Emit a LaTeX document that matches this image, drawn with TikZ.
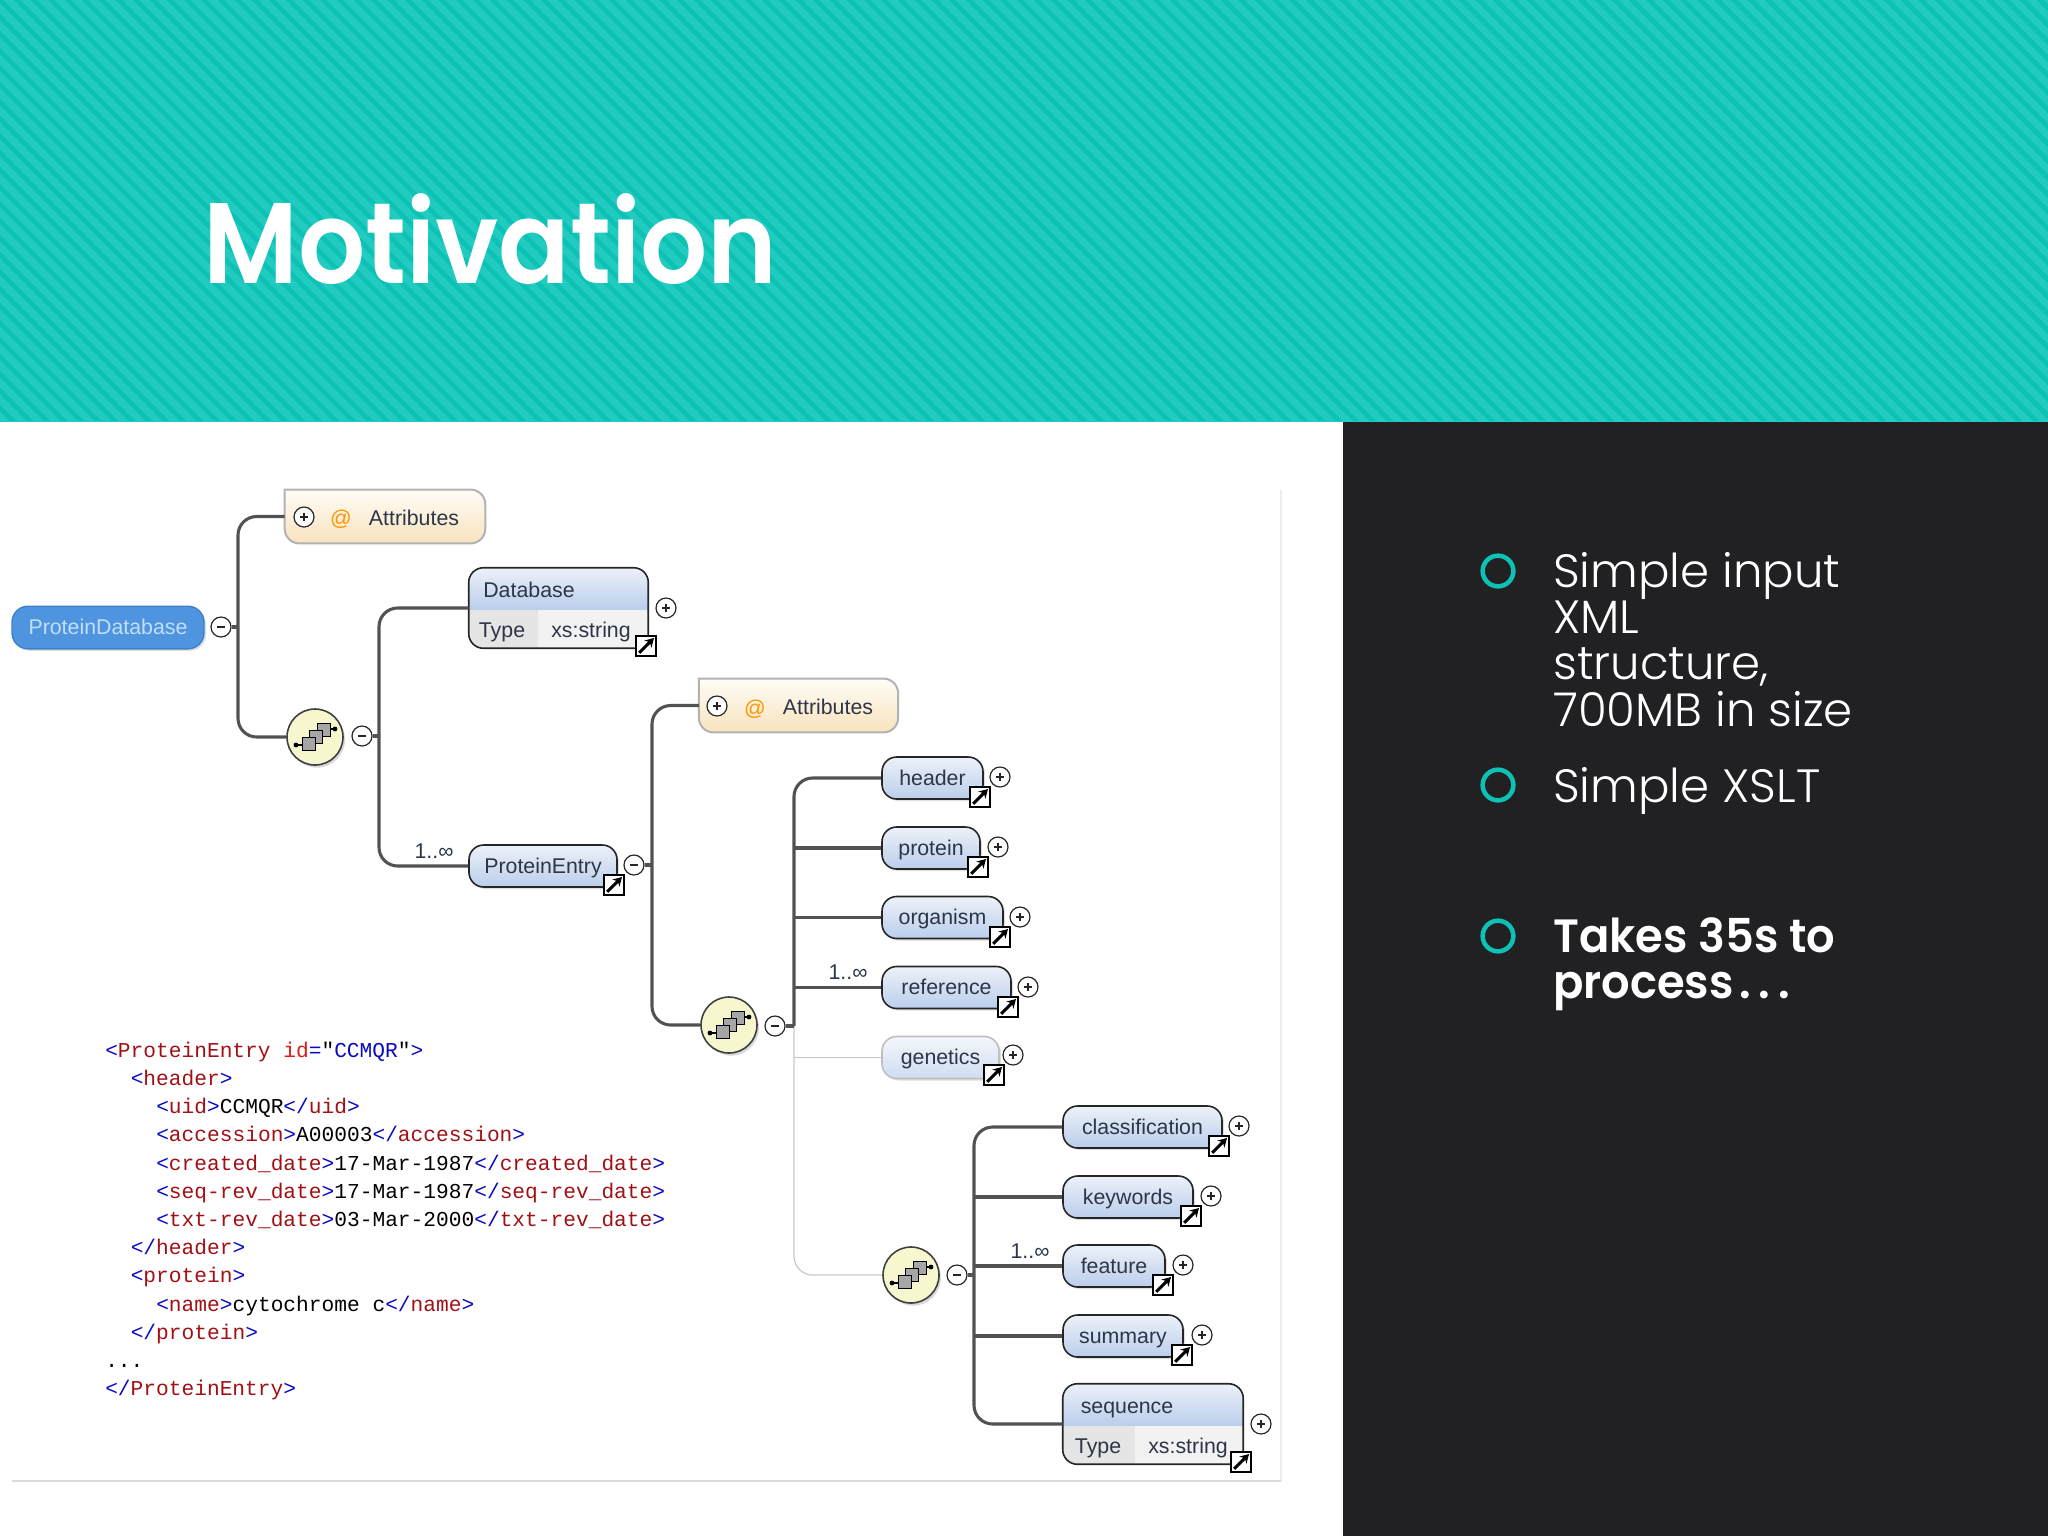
\documentclass[tikz,border=0pt]{standalone}
\usepackage{fontspec}
\usetikzlibrary{calc,shadows,arrows.meta}
\newfontfamily\xsdfont{Liberation Sans}
\newfontfamily\xmlfont{Liberation Mono}
\newfontfamily\bodyfont{Poppins Light}
\newfontfamily\headfont{Poppins SemiBold}[FakeStretch=0.96]
\newfontfamily\titlefont{Poppins SemiBold}[FakeStretch=0.92]
\definecolor{tealA}{HTML}{21CBBF}
\definecolor{tealB}{HTML}{0DC2B4}
\definecolor{panelbg}{HTML}{212023}
\definecolor{xmlblue}{HTML}{0A0AC0}
\definecolor{xmlred}{HTML}{A01015}
\definecolor{xmlattr}{HTML}{E01818}
\definecolor{boxtop}{HTML}{EDF1F8}
\definecolor{boxbot}{HTML}{BACEEC}
\definecolor{boxink}{HTML}{2C3648}
\definecolor{rootfill}{HTML}{4F94DE}
\definecolor{rootedge}{HTML}{3F7FC8}
\definecolor{rootink}{HTML}{C2DFF9}
\definecolor{attrtop}{HTML}{FFFDF6}
\definecolor{attrbot}{HTML}{F8E3BE}
\definecolor{bubfill}{HTML}{F6F6CF}
\newcommand{\xo}[1]{\textcolor{xmlblue}{<}\textcolor{xmlred}{#1}\textcolor{xmlblue}{>}}
\newcommand{\xc}[1]{\textcolor{xmlblue}{</}\textcolor{xmlred}{#1}\textcolor{xmlblue}{>}}
\tikzset{
  treeline/.style={draw=black!68,line width=2.3pt,rounded corners=14pt},
  branchline/.style={draw=black!68,line width=2.3pt},
  lightline/.style={draw=black!22,line width=0.9pt,rounded corners=14pt},
  elembox/.style={draw=black!85,line width=1.2pt,rounded corners=11pt,inner sep=0pt,
    top color=boxtop,bottom color=boxbot,minimum height=31.5pt,minimum width=#1*0.75pt,
    text=boxink,text height=13.6pt,text depth=2.4pt,font=\xsdfont\fontsize{16}{18}\selectfont,
    drop shadow={shadow xshift=1.5pt,shadow yshift=-1.5pt,opacity=.25}},
  optbox/.style={elembox=#1,draw=black!25,top color=boxtop!60!white,bottom color=boxbot!70!white},
  typedbox/.style={inner sep=0pt,minimum width=#1*0.75pt,minimum height=60pt},
  boxtext/.style={text=boxink,text height=13.6pt,text depth=2.4pt,font=\xsdfont\fontsize{16}{18}\selectfont,inner sep=0pt},
  attrbox/.style={inner sep=0pt,minimum width=150pt,minimum height=40pt},
  attrshape/.style={draw=black!30,line width=1.5pt,top color=attrtop,bottom color=attrbot},
  attrsign/.style={boxtext,text=orange!85!yellow},
  plusbtn/.style={circle,draw=black!85,fill=white,line width=0.9pt,minimum size=15pt,inner sep=0pt,
    path picture={
      \draw[line width=0.9pt] ($(path picture bounding box.west)!.3!(path picture bounding box.east)$) -- ($(path picture bounding box.west)!.7!(path picture bounding box.east)$);
      \draw[line width=0.9pt] ($(path picture bounding box.north)!.3!(path picture bounding box.south)$) -- ($(path picture bounding box.north)!.7!(path picture bounding box.south)$);}},
  minusbtn/.style={circle,draw=black!85,fill=white,line width=0.9pt,minimum size=15pt,inner sep=0pt,
    path picture={
      \draw[line width=0.9pt] ($(path picture bounding box.west)!.3!(path picture bounding box.east)$) -- ($(path picture bounding box.west)!.7!(path picture bounding box.east)$);}},
  extlink/.style={rectangle,draw=black,fill=white,line width=1.2pt,minimum size=15pt,inner sep=0pt,
    path picture={
      \draw[line width=2.2pt,-{Stealth[length=6.5pt,width=7.5pt]}] ($(path picture bounding box.south west)!.16!(path picture bounding box.north east)$) -- ($(path picture bounding box.south west)!.9!(path picture bounding box.north east)$);}},
  seqbub/.style={circle,draw=black!75,fill=bubfill,line width=1.2pt,minimum size=42pt,inner sep=0pt,
    drop shadow={shadow xshift=1.5pt,shadow yshift=-2pt,opacity=.3}},
  seqcell/.style={draw=black,fill=black!35,line width=0.7pt},
  seqicon/.pic={
    \draw[line width=0.9pt] (-19,-8) -- (-13,-8) (13,8) -- (20,8);
    \fill (-19,-8) circle (1.8pt) (20,8) circle (1.8pt);
    \draw[seqcell] (2,14) rectangle (15,1);
    \draw[seqcell] (-6,7) rectangle (7,-6);
    \draw[seqcell] (-13,0) rectangle (0,-13);},
  xmlline/.style={anchor=base west,inner sep=0pt,font=\xmlfont\fontsize{15.9}{18}\selectfont},
  ringmark/.style={circle,draw=tealB,line width=3.4pt,minimum size=23pt,inner sep=0pt},
  bulletbody/.style={anchor=north west,inner sep=0pt,align=left,text=white,
    font=\bodyfont\fontsize{35}{34.7}\selectfont},
  bulletbold/.style={anchor=north west,inner sep=0pt,align=left,text=white,
    font=\headfont\fontsize{35}{34.7}\selectfont},
}
\begin{document}
\begin{tikzpicture}[x=0.75pt,y=0.75pt,yscale=-1,xscale=1]
\useasboundingbox (0,0) rectangle (2048,1536);

% Header band
\fill[tealA] (0,0) rectangle (2048,422);
\begin{scope}
\clip (0,0) rectangle (2048,420.5);
\foreach \i in {-430,-413,...,2048} {
  \draw[tealB,line width=3.7pt] (\i,-5) -- ++(432,432);
}
\end{scope}
\node[anchor=base west,inner sep=0pt,text=white,font=\titlefont\fontsize{86}{90}\selectfont] (title) at (203,283) {Motivation};

% Dark panel
\fill[panelbg] (1343,422) rectangle (2048,1536);

% Sheet edge
\draw[black!7,line width=1.5pt] (1281,490) -- (1281,1481);
\draw[black!14,line width=1.5pt] (12,1481) -- (1281,1481);

% Bullets
\node[ringmark] (ringA) at (1498,571) {};
\node[ringmark] (ringB) at (1498,785) {};
\node[ringmark] (ringC) at (1498,936) {};
\node[bulletbody] (bulletA) at (1553,552) {Simple input\\XML\\structure,\\700MB in size};
\node[bulletbody] (bulletB) at (1553,767) {Simple XSLT};
\node[bulletbold] (bulletC) at (1553,917) {Takes 35s to\\process\kern4pt.\kern6pt.\kern6pt.};

% Top level
\node[rectangle,draw=rootedge,fill=rootfill,line width=1pt,rounded corners=12pt,inner sep=0pt,minimum width=144pt,minimum height=32pt,text=rootink,text height=13.6pt,text depth=2.4pt,font=\xsdfont\fontsize{16}{18}\selectfont,drop shadow={shadow xshift=1.5pt,shadow yshift=-1.5pt,opacity=.25}] (root) at (108,627.5) {ProteinDatabase};
\node[minusbtn] (rootminus) at (221,627) {};
\coordinate (joinA) at (238,627);

\node[attrbox] (attrA) at (385,516.5) {};
\shade[attrshape] (attrA.north west) [rounded corners=11pt] -- (attrA.north east) -- (attrA.south east) -- (attrA.south west) [sharp corners] -- cycle;
\node[plusbtn] (attrAplus) at (304,517) {};
\node[attrsign] (attrAsign) at (341,518) {@};
\node[boxtext] (attrAtext) at (414,518) {Attributes};

\node[seqbub] (seqA) at (315,737) {};
\pic at (seqA) {seqicon};
\node[minusbtn] (seqAminus) at (362,736) {};
\coordinate (joinB) at (379,736);
\draw[treeline] (attrA.west) -| (joinA) |- (seqA.west);
\draw[branchline] (rootminus.east) -- (joinA);

% Database
\node[typedbox=179] (database) at (558.5,608) {};
\coordinate (dbsplit) at (469,609);
\coordinate (dbcell) at (538,648);
\begin{scope}
\clip[rounded corners=11pt] (database.north west) rectangle (database.south east);
\fill[black!5] (dbsplit) rectangle (database.south east);
\fill[black!10] (dbsplit) rectangle (dbcell);
\shade[top color=boxtop,bottom color=boxbot] (database.north east) rectangle (dbsplit);
\end{scope}
\draw[draw=black!85,line width=1.2pt,rounded corners=11pt] (database.north west) rectangle (database.south east);
\node[boxtext] (databasename) at (529,590) {Database};
\node[boxtext] (databasetype) at (502,630) {Type};
\node[boxtext] (databasevalue) at (591,630) {xs:string};
\node[plusbtn] (databaseplus) at (666,608) {};
\node[extlink] (databaseext) at (646,646) {};

% ProteinEntry
\node[elembox=148] (entry) at (543,866) {ProteinEntry};
\node[extlink] (entryext) at (614,885) {};
\node[minusbtn] (entryminus) at (634,865) {};
\coordinate (joinC) at (652,865);
\node[boxtext] (entrycount) at (434,851) {1..∞};
\draw[treeline] (database.west) -| (joinB) |- (entry.west);
\draw[branchline] (seqAminus.east) -- (joinB);

% Second level
\node[attrbox,minimum width=149pt] (attrB) at (798.5,705.5) {};
\shade[attrshape] (attrB.north west) [rounded corners=11pt] -- (attrB.north east) -- (attrB.south east) -- (attrB.south west) [sharp corners] -- cycle;
\node[plusbtn] (attrBplus) at (717,706) {};
\node[attrsign] (attrBsign) at (755,708) {@};
\node[boxtext] (attrBtext) at (828,707) {Attributes};

\node[seqbub] (seqB) at (729,1025) {};
\pic at (seqB) {seqicon};
\node[minusbtn] (seqBminus) at (775,1026) {};
\coordinate (joinD) at (794,1026);
\draw[treeline] (attrB.west) -| (joinC) |- (seqB.west);
\draw[branchline] (entryminus.east) -- (joinC);

\node[elembox=101] (header) at (932.5,778) {header};
\node[elembox=98] (protein) at (931,848) {protein};
\node[elembox=121] (organism) at (942.5,917.5) {organism};
\node[elembox=129] (reference) at (946.5,987.5) {reference};
\node[optbox=117] (genetics) at (940.5,1057.5) {genetics};
\node[plusbtn] (headerplus) at (1000,777) {};
\node[plusbtn] (proteinplus) at (998,847) {};
\node[plusbtn] (organismplus) at (1020,917) {};
\node[plusbtn] (referenceplus) at (1028,987) {};
\node[plusbtn] (geneticsplus) at (1013,1055) {};
\node[extlink] (headerext) at (980,797) {};
\node[extlink] (proteinext) at (978,867) {};
\node[extlink] (organismext) at (1000,937) {};
\node[extlink] (referenceext) at (1008,1007) {};
\node[extlink] (geneticsext) at (994,1075) {};
\node[boxtext] (referencecount) at (848,972) {1..∞};

% Third level
\node[seqbub] (seqC) at (911,1275) {};
\pic at (seqC) {seqicon};
\node[minusbtn] (seqCminus) at (957,1275) {};
\coordinate (joinE) at (974,1275);
\draw[lightline] (joinD) |- (seqC.west);
\draw[lightline,rounded corners=0pt] (genetics.west) -- (genetics.west -| joinD);
\draw[treeline] (header.west) -| (joinD);
\draw[branchline] (protein.west) -- (protein.west -| joinD);
\draw[branchline] (organism.west) -- (organism.west -| joinD);
\draw[branchline] (reference.west) -- (reference.west -| joinD);
\draw[branchline] (seqBminus.east) -- (joinD);

\node[elembox=159] (classification) at (1142.5,1127) {classification};
\node[elembox=130] (keywords) at (1128,1197) {keywords};
\node[elembox=102] (feature) at (1114,1266) {feature};
\node[elembox=120] (summary) at (1123,1336) {summary};
\node[typedbox=180] (sequence) at (1153,1424) {};
\coordinate (seqsplit) at (1063,1425);
\coordinate (seqcell) at (1135,1464);
\begin{scope}
\clip[rounded corners=11pt] (sequence.north west) rectangle (sequence.south east);
\fill[black!5] (seqsplit) rectangle (sequence.south east);
\fill[black!10] (seqsplit) rectangle (seqcell);
\shade[top color=boxtop,bottom color=boxbot] (sequence.north east) rectangle (seqsplit);
\end{scope}
\draw[draw=black!85,line width=1.2pt,rounded corners=11pt] (sequence.north west) rectangle (sequence.south east);
\node[boxtext] (sequencename) at (1127,1406) {sequence};
\node[boxtext] (sequencetype) at (1098,1446) {Type};
\node[boxtext] (sequencevalue) at (1188,1446) {xs:string};
\node[plusbtn] (classificationplus) at (1239,1126) {};
\node[plusbtn] (keywordsplus) at (1211,1196) {};
\node[plusbtn] (featureplus) at (1183,1265) {};
\node[plusbtn] (summaryplus) at (1202,1335) {};
\node[plusbtn] (sequenceplus) at (1261,1424) {};
\node[extlink] (classificationext) at (1219,1146) {};
\node[extlink] (keywordsext) at (1191,1216) {};
\node[extlink] (featureext) at (1163,1285) {};
\node[extlink] (summaryext) at (1182,1355) {};
\node[extlink] (sequenceext) at (1241,1462) {};
\node[boxtext] (featurecount) at (1030,1251) {1..∞};
\draw[treeline] (classification.west) -| (joinE) |- (sequence.west);
\draw[branchline] (keywords.west) -- (keywords.west -| joinE);
\draw[branchline] (feature.west) -- (feature.west -| joinE);
\draw[branchline] (summary.west) -- (summary.west -| joinE);
\draw[branchline] (seqCminus.east) -- (joinE);

% Sample record
\node[xmlline] (lineA) at (105,1057) {\textcolor{xmlblue}{<}\textcolor{xmlred}{ProteinEntry} \textcolor{xmlattr}{id}\textcolor{xmlblue}{=}"\textcolor{xmlblue}{CCMQR}"\textcolor{xmlblue}{>}};
\node[xmlline] (lineB) at (130.5,1085) {\xo{header}};
\node[xmlline] (lineC) at (156,1113) {\xo{uid}CCMQR\xc{uid}};
\node[xmlline] (lineD) at (156,1141) {\xo{accession}A00003\xc{accession}};
\node[xmlline] (lineE) at (156,1170) {\xo{created\_date}17-Mar-1987\xc{created\_date}};
\node[xmlline] (lineF) at (156,1198) {\xo{seq-rev\_date}17-Mar-1987\xc{seq-rev\_date}};
\node[xmlline] (lineG) at (156,1226) {\xo{txt-rev\_date}03-Mar-2000\xc{txt-rev\_date}};
\node[xmlline] (lineH) at (130.5,1254) {\xc{header}};
\node[xmlline] (lineI) at (130.5,1282) {\xo{protein}};
\node[xmlline] (lineJ) at (156,1311) {\xo{name}cytochrome c\xc{name}};
\node[xmlline] (lineK) at (130.5,1339) {\xc{protein}};
\node[xmlline] (lineL) at (105,1367) {...};
\node[xmlline] (lineM) at (105,1395) {\xc{ProteinEntry}};
\end{tikzpicture}
\end{document}
